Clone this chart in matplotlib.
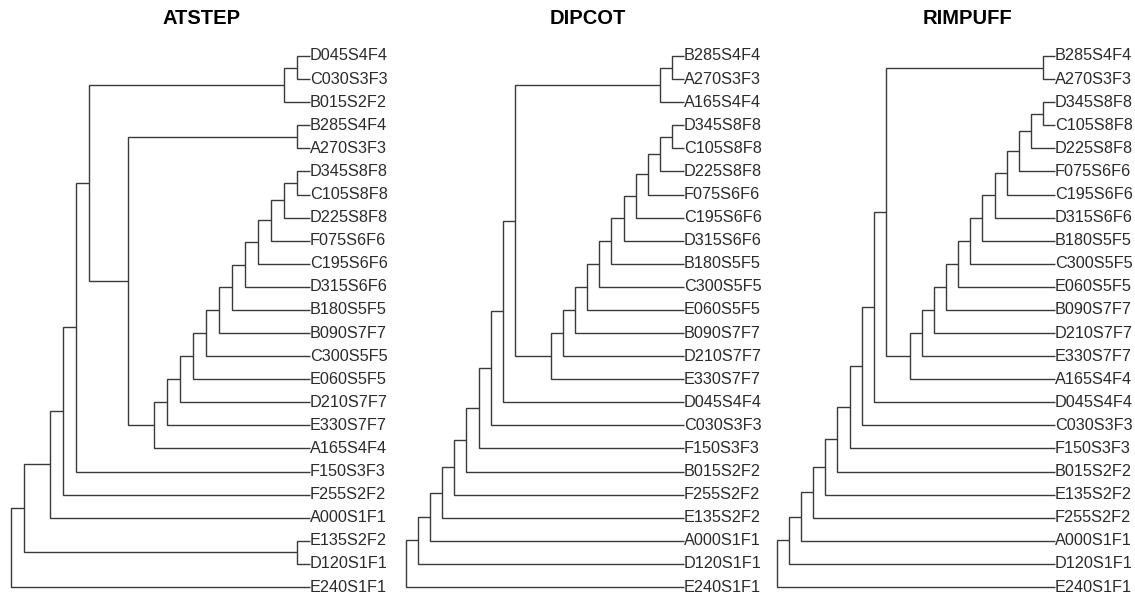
import matplotlib
matplotlib.use("Agg")
import matplotlib.pyplot as plt

# ---------------- data ----------------
titles = ["ATSTEP", "DIPCOT", "RIMPUFF"]

leaves_atstep = ["D045S4F4", "C030S3F3", "B015S2F2", "B285S4F4", "A270S3F3",
                 "D345S8F8", "C105S8F8", "D225S8F8", "F075S6F6", "C195S6F6",
                 "D315S6F6", "B180S5F5", "B090S7F7", "C300S5F5", "E060S5F5",
                 "D210S7F7", "E330S7F7", "A165S4F4", "F150S3F3", "F255S2F2",
                 "A000S1F1", "E135S2F2", "D120S1F1", "E240S1F1"]
# linkage rows: (child a, child b, height); indices >= 24 refer to earlier rows
link_atstep = [(0, 1, 1), (24, 2, 2), (3, 4, 1), (5, 6, 1), (27, 7, 2),
               (28, 8, 3), (29, 9, 4), (30, 10, 5), (31, 11, 6), (32, 12, 7),
               (33, 13, 8), (34, 14, 9), (35, 15, 10), (36, 16, 11), (37, 17, 12),
               (26, 38, 14), (25, 39, 17), (40, 18, 18), (41, 19, 19), (42, 20, 20),
               (21, 22, 1), (43, 44, 22), (45, 23, 23)]

leaves_dipcot = ["B285S4F4", "A270S3F3", "A165S4F4", "D345S8F8", "C105S8F8",
                 "D225S8F8", "F075S6F6", "C195S6F6", "D315S6F6", "B180S5F5",
                 "C300S5F5", "E060S5F5", "B090S7F7", "D210S7F7", "E330S7F7",
                 "D045S4F4", "C030S3F3", "F150S3F3", "B015S2F2", "F255S2F2",
                 "E135S2F2", "A000S1F1", "D120S1F1", "E240S1F1"]
link_dipcot = [(0, 1, 1), (24, 2, 2), (3, 4, 1), (26, 5, 2), (27, 6, 3),
               (28, 7, 4), (29, 8, 5), (30, 9, 6), (31, 10, 7), (32, 11, 8),
               (33, 12, 9), (34, 13, 10), (35, 14, 11), (25, 36, 14), (37, 15, 15),
               (38, 16, 16), (39, 17, 17), (40, 18, 18), (41, 19, 19), (42, 20, 20),
               (43, 21, 21), (44, 22, 22), (45, 23, 23)]

leaves_rimpuff = ["B285S4F4", "A270S3F3", "D345S8F8", "C105S8F8", "D225S8F8",
                  "F075S6F6", "C195S6F6", "D315S6F6", "B180S5F5", "C300S5F5",
                  "E060S5F5", "B090S7F7", "D210S7F7", "E330S7F7", "A165S4F4",
                  "D045S4F4", "C030S3F3", "F150S3F3", "B015S2F2", "E135S2F2",
                  "F255S2F2", "A000S1F1", "D120S1F1", "E240S1F1"]
link_rimpuff = [(0, 1, 1), (2, 3, 1), (25, 4, 2), (26, 5, 3), (27, 6, 4),
                (28, 7, 5), (29, 8, 6), (30, 9, 7), (31, 10, 8), (32, 11, 9),
                (33, 12, 10), (34, 13, 11), (35, 14, 12), (24, 36, 14), (37, 15, 15),
                (38, 16, 16), (39, 17, 17), (40, 18, 18), (41, 19, 19), (42, 20, 20),
                (43, 21, 21), (44, 22, 22), (45, 23, 23)]

panels = [(leaves_atstep, link_atstep),
          (leaves_dipcot, link_dipcot),
          (leaves_rimpuff, link_rimpuff)]

# ---------------- layout ----------------
W, H = 1135, 599
fig = plt.figure(figsize=(W / 100, H / 100), dpi=100)
fig.patch.set_facecolor("white")

# pixel extents of each panel's tree (root height -> leaf tips)
px_left = [11, 406, 777]
px_right = [310, 684, 1055]
y_top, y_bot = 56, 587
title_x = [202, 588, 967]

line_col = "#3a3a3a"
text_col = "#2b2b2b"

for k, (leaves, link) in enumerate(panels):
    n = len(leaves)
    hmax = max(r[2] for r in link)
    ax = fig.add_axes([px_left[k] / W, 1 - y_bot / H,
                       (px_right[k] - px_left[k]) / W, (y_bot - y_top) / H])
    ax.set_xlim(hmax, 0)
    ax.set_ylim(n - 1, 0)
    ax.axis("off")

    xs = {i: 0.0 for i in range(n)}
    ys = {i: float(i) for i in range(n)}
    for j, (a, b, h) in enumerate(link):
        node = n + j
        ax.plot([xs[a], h, h, xs[b]], [ys[a], ys[a], ys[b], ys[b]],
                color=line_col, lw=1.0, solid_capstyle="butt",
                solid_joinstyle="miter", clip_on=False)
        xs[node] = h
        ys[node] = (ys[a] + ys[b]) / 2

    for i, name in enumerate(leaves):
        ax.text(0, i, name, ha="left", va="center", fontsize=11.7,
                family="Liberation Sans", color=text_col, clip_on=False)

    fig.text(title_x[k] / W, 1 - 19 / H, titles[k], ha="center", va="center",
             fontsize=14.5, fontweight="bold", family="Liberation Sans",
             color="black")

fig.savefig("out.png", dpi=100, facecolor="white")
